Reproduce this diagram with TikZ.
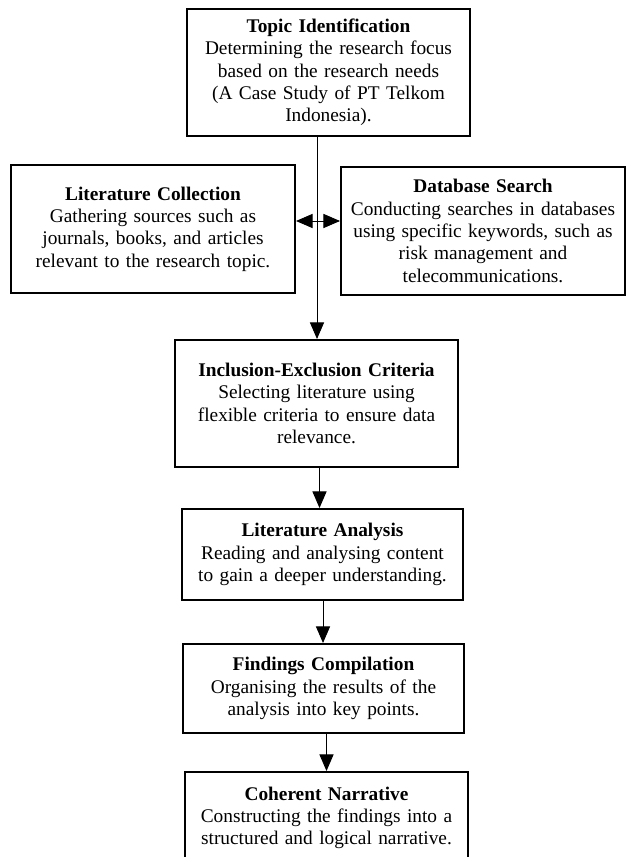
\documentclass[tikz,border=0pt]{standalone}
\usepackage{fontspec}
\setmainfont{Liberation Serif}
\usetikzlibrary{arrows.meta, calc}
\tikzset{
  stage/.style={
    rectangle, draw, color=black, line width=1.2pt,
    align=center, text width=164pt, inner sep=2pt,
    font=\fontsize{11.6}{13.4}\selectfont
  },
  connection/.style={
    draw, -{Triangle[width=8.5pt,length=10pt]}, color=black, line width=.55pt
  }
}

\begin{document}
\begin{tikzpicture}[x=0.6pt, y=-0.6pt]
        \useasboundingbox (0,0) rectangle (625,857);

        \node[stage, minimum width=169.8pt, minimum height=76.2pt] (topic) at (328.5,72.5)
          {\textbf{Topic Identification}\\Determining the research focus\\based on the research needs\\(A Case Study of PT Telkom\\Indonesia).};
        \node[stage, minimum width=170.4pt, minimum height=76.8pt] (collect) at (153,229)
          {\textbf{Literature Collection}\\Gathering sources such as\\journals, books, and articles\\relevant to the research topic.\\[2pt]};
        \node[stage, minimum width=170.4pt, minimum height=76.8pt] (search) at (483,231)
          {\textbf{Database Search}\\Conducting searches in databases\\using specific keywords, such as\\risk management and\\telecommunications.};
        \node[stage, minimum width=169.8pt, minimum height=76.2pt] (criteria) at (316.5,403.5)
          {\textbf{Inclusion-Exclusion Criteria}\\Selecting literature using\\flexible criteria to ensure data\\relevance.\\[4pt]};
        \node[stage, minimum width=168.6pt, minimum height=54.6pt] (analysis) at (322.5,554.5)
          {\textbf{Literature Analysis}\\Reading and analysing content\\to gain a deeper understanding.};
        \node[stage, minimum width=168.6pt, minimum height=53.4pt] (findings) at (323.5,688.5)
          {\textbf{Findings Compilation}\\Organising the results of the\\analysis into key points.};
        \node[stage, minimum width=169.8pt, minimum height=55.2pt] (narrative) at (326.5,818)
          {\textbf{Coherent Narrative}\\Constructing the findings into a\\structured and logical narrative.};

        \coordinate (cross) at (317,221);

        \draw[connection] (topic.south -| cross) -- (criteria.north -| cross);
        \draw[connection] (cross) -- (cross -| collect.east);
        \draw[connection] (cross) -- (cross -| search.west);
        \draw[connection] ($(criteria.south)!0.5!(criteria.south -| analysis.north)$) -- ($(analysis.north)!0.5!(analysis.north -| criteria.south)$);
        \draw[connection] ($(analysis.south)!0.5!(analysis.south -| findings.north)$) -- ($(findings.north)!0.5!(findings.north -| analysis.south)$);
        \draw[connection] (findings.south -| narrative.north) -- (narrative.north);
      \end{tikzpicture}
\end{document}
